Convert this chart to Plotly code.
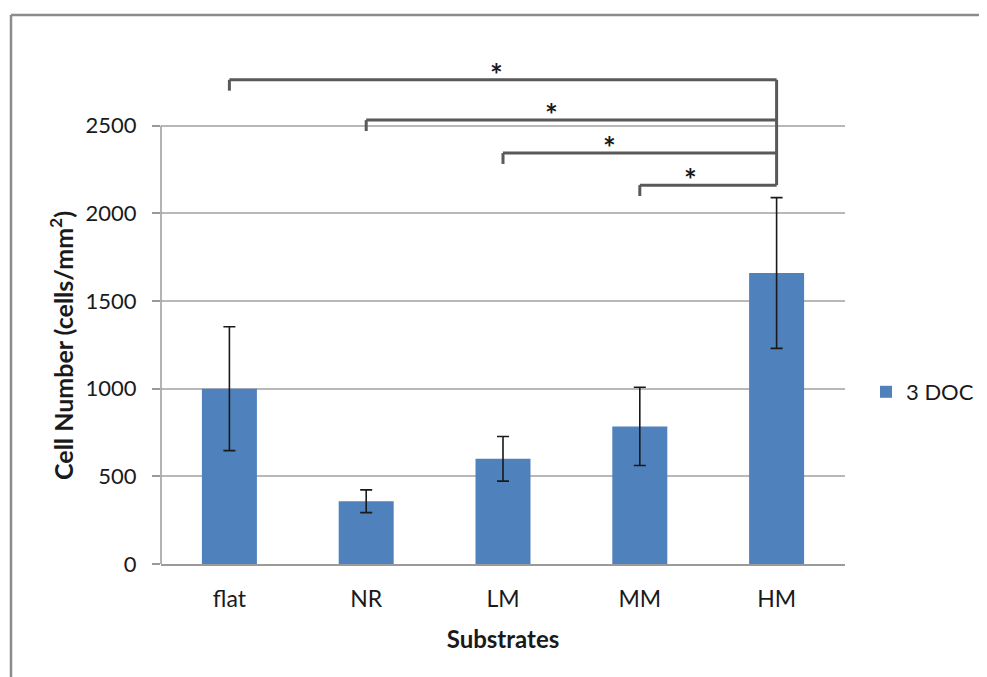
import plotly.graph_objects as go

# ---- data ----
categories = ["flat", "NR", "LM", "MM", "HM"]
cell_number = [1000, 358, 600, 785, 1660]
cell_error = [353, 65, 127, 223, 430]
series_name = "3 DOC"
y_ticks = [0, 500, 1000, 1500, 2000, 2500]
x_title = "Substrates"
y_title = "Cell Number (cells/mm<sup>2</sup>)"

# significance brackets: compared category vs HM, bracket level (data units)
sig_from = ["flat", "NR", "LM", "MM"]
sig_to = "HM"
sig_level = [2762, 2532, 2344, 2161]
sig_label = ["*", "*", "*", "*"]
star_x = [1.956, 2.358, 2.775, 3.367]

# ---- layout constants (page body has an 8px margin) ----
OFF = 8
W, H = 987, 677
L = 161 - OFF
T = 50 - OFF
PW = 684
R = W - L - PW
B = H - (564 - OFF)
YMAX = 2932
FONT = "Lato, 'Open Sans', sans-serif"
BAR_COLOR = "#4f81bd"
GRID = "#b8b8b8"
BRACKET = "#595959"
TXT = "#1a1a1a"

fig = go.Figure()
fig.add_trace(go.Bar(
    x=categories, y=cell_number, name=series_name,
    marker=dict(color=BAR_COLOR, line=dict(width=0)),
    error_y=dict(type="data", array=cell_error, visible=True,
                 color=TXT, thickness=1.6, width=6),
    showlegend=True,
))

shapes = []
# y axis line (only up to 2500)
shapes.append(dict(type="line", xref="paper", yref="y", x0=0, x1=0,
                   y0=0, y1=y_ticks[-1], line=dict(color="#9a9a9a", width=1.5)))
# significance brackets
idx = {c: i for i, c in enumerate(categories)}
tick_drop = 62
for c, lvl in zip(sig_from, sig_level):
    x0 = idx[c]
    x1 = idx[sig_to]
    shapes.append(dict(type="line", xref="x", yref="y", x0=x0, x1=x1, y0=lvl, y1=lvl,
                       line=dict(color=BRACKET, width=3)))
    shapes.append(dict(type="line", xref="x", yref="y", x0=x0, x1=x0, y0=lvl, y1=lvl - tick_drop,
                       line=dict(color=BRACKET, width=3)))
shapes.append(dict(type="line", xref="x", yref="y", x0=idx[sig_to], x1=idx[sig_to],
                   y0=max(sig_level), y1=min(sig_level),
                   line=dict(color=BRACKET, width=3)))

# outer frame (left and top edges), in reference pixel terms
ph = H - T - B
def px_to_paper_x(px):
    return (px - OFF - L) / PW
def px_to_paper_y(py):
    return (H - B - (py - OFF)) / ph
fx = px_to_paper_x(11)
fy_top = px_to_paper_y(15)
fy_bot = px_to_paper_y(H + 10)
shapes.append(dict(type="line", xref="paper", yref="paper", x0=fx, x1=fx, y0=fy_top, y1=fy_bot,
                   line=dict(color="#8c8c8c", width=2.5)))
shapes.append(dict(type="line", xref="paper", yref="paper", x0=fx, x1=px_to_paper_x(W + 10),
                   y0=fy_top, y1=fy_top, line=dict(color="#8c8c8c", width=2.5)))

annotations = []
for sx, lvl, lab in zip(star_x, sig_level, sig_label):
    annotations.append(dict(x=sx, y=lvl, xref="x", yref="y", text="<b>" + lab + "</b>",
                            showarrow=False, yanchor="bottom", yshift=-14,
                            font=dict(family=FONT, size=30, color=TXT)))
# y-axis title (centred on the 0-2500 span, as in the reference)
annotations.append(dict(x=px_to_paper_x(61), y=px_to_paper_y(346), xref="paper", yref="paper",
                        text="<b>" + y_title + "</b>", textangle=-90, showarrow=False,
                        xanchor="center", yanchor="middle",
                        font=dict(family=FONT, size=25, color=TXT)))

fig.update_layout(
    width=W, height=H,
    margin=dict(l=L, r=R, t=T, b=B, autoexpand=False),
    paper_bgcolor="white", plot_bgcolor="white",
    font=dict(family=FONT, size=22, color=TXT),
    bargap=0.598,
    shapes=shapes, annotations=annotations,
    showlegend=True,
    legend=dict(x=px_to_paper_x(866), xanchor="left", y=px_to_paper_y(392), yanchor="middle",
                font=dict(family=FONT, size=22, color=TXT),
                itemwidth=30, bgcolor="rgba(0,0,0,0)"),
    xaxis=dict(
        type="category",
        showline=True, linecolor="#9a9a9a", linewidth=1.5,
        showgrid=False, ticks="", ticklabelstandoff=14,
        tickfont=dict(family=FONT, size=23, color=TXT),
        title=dict(text="<b>" + x_title + "</b>", standoff=20,
                   font=dict(family=FONT, size=24, color=TXT)),
    ),
    yaxis=dict(
        range=[0, YMAX], tickvals=y_ticks, ticktext=[str(v) for v in y_ticks],
        showgrid=True, gridcolor=GRID, gridwidth=1.5,
        zeroline=False, showline=False,
        ticks="outside", ticklen=8, tickcolor="#9a9a9a", tickwidth=1.5,
        ticklabelstandoff=11,
        tickfont=dict(family=FONT, size=22, color=TXT),
    ),
)

fig.write_html("out.html")
